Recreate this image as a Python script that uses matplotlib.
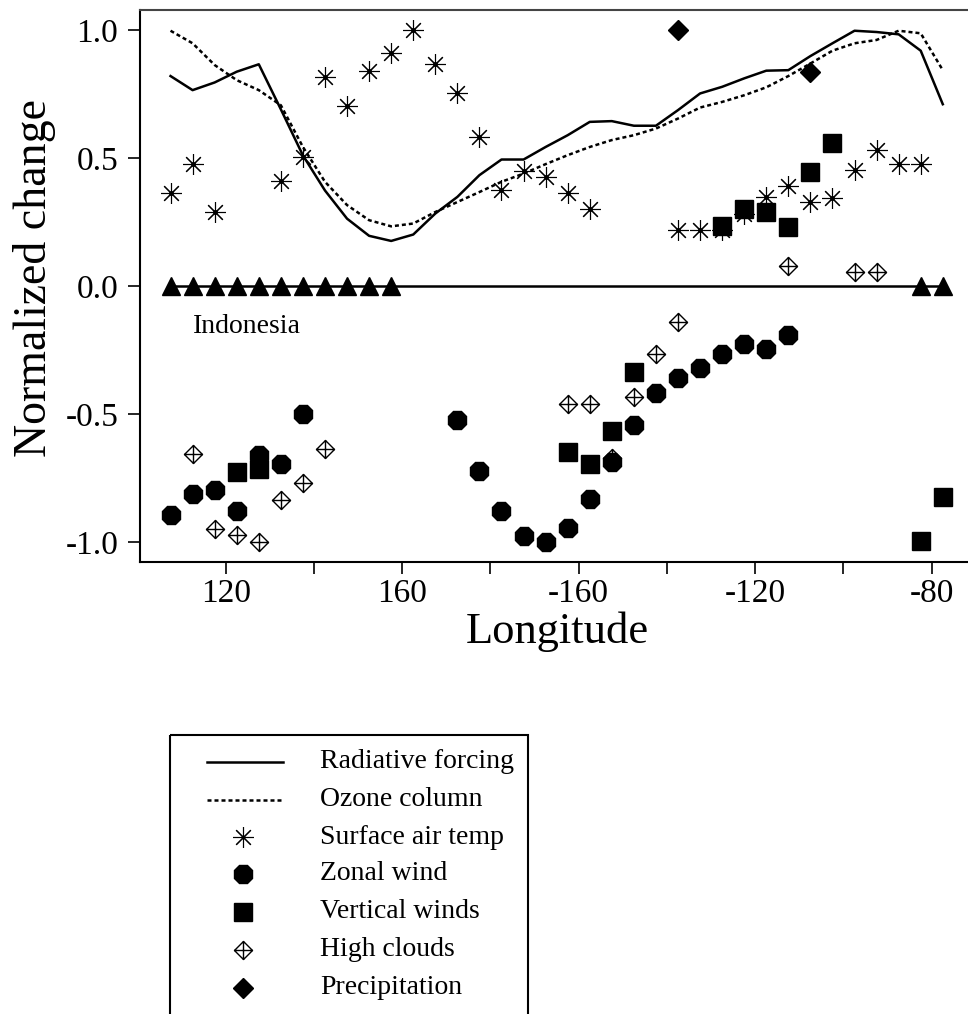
import matplotlib
matplotlib.use('Agg')
import matplotlib.pyplot as plt
from matplotlib.path import Path
from matplotlib.patches import Rectangle

plt.rcParams['font.family'] = ['Liberation Serif', 'DejaVu Serif']
plt.rcParams['axes.unicode_minus'] = False

# longitude in degrees east (0-360), 5 degree grid
lon = [107.5, 112.5, 117.5, 122.5, 127.5, 132.5, 137.5, 142.5, 147.5, 152.5,
       157.5, 162.5, 167.5, 172.5, 177.5, 182.5, 187.5, 192.5, 197.5, 202.5,
       207.5, 212.5, 217.5, 222.5, 227.5, 232.5, 237.5, 242.5, 247.5, 252.5,
       257.5, 262.5, 267.5, 272.5, 277.5, 282.5]
rad_forcing = [0.820, 0.765, 0.795, 0.837, 0.866, 0.690, 0.510, 0.373, 0.263, 0.196,
               0.176, 0.201, 0.283, 0.348, 0.433, 0.494, 0.494, 0.543, 0.589, 0.641,
               0.644, 0.626, 0.626, 0.687, 0.752, 0.778, 0.811, 0.841, 0.843, 0.898,
               0.948, 0.997, 0.992, 0.983, 0.919, 0.710]
ozone = [0.997, 0.948, 0.863, 0.804, 0.765, 0.706, 0.543, 0.407, 0.316, 0.257,
         0.233, 0.244, 0.289, 0.328, 0.367, 0.407, 0.439, 0.476, 0.511, 0.543,
         0.570, 0.589, 0.615, 0.654, 0.697, 0.719, 0.745, 0.776, 0.820, 0.869,
         0.919, 0.948, 0.961, 0.997, 0.987, 0.843]

sat_lon = [107.5, 112.5, 117.5, 132.5, 137.5, 142.5, 147.5, 152.5, 157.5, 162.5,
           167.5, 172.5, 177.5, 182.5, 187.5, 192.5, 197.5, 202.5, 222.5, 227.5,
           232.5, 237.5, 242.5, 247.5, 252.5, 257.5, 262.5, 267.5, 272.5, 277.5]
sat_val = [0.365, 0.476, 0.289, 0.410, 0.502, 0.815, 0.704, 0.841, 0.912, 1.000,
           0.869, 0.755, 0.583, 0.374, 0.450, 0.424, 0.365, 0.302, 0.218, 0.218,
           0.218, 0.283, 0.346, 0.391, 0.327, 0.344, 0.455, 0.533, 0.475, 0.475]

zw_lon = [107.5, 112.5, 117.5, 122.5, 127.5, 132.5, 137.5, 172.5, 177.5, 182.5,
          187.5, 192.5, 197.5, 202.5, 207.5, 212.5, 217.5, 222.5, 227.5, 232.5,
          237.5, 242.5, 247.5]
zw_val = [-0.893, -0.812, -0.796, -0.880, -0.659, -0.694, -0.499, -0.525, -0.723, -0.877,
          -0.975, -1.000, -0.945, -0.831, -0.688, -0.542, -0.419, -0.360, -0.319, -0.267,
          -0.225, -0.245, -0.190]

vw_lon = [122.5, 127.5, 197.5, 202.5, 207.5, 212.5, 232.5, 237.5, 242.5, 247.5,
          252.5, 257.5, 277.5, 282.5]
vw_val = [-0.727, -0.714, -0.649, -0.694, -0.567, -0.336, 0.235, 0.301, 0.288, 0.231,
          0.446, 0.559, -0.997, -0.825]

hc_lon = [112.5, 117.5, 122.5, 127.5, 132.5, 137.5, 142.5, 197.5, 202.5, 207.5,
          212.5, 217.5, 222.5, 247.5, 262.5, 267.5]
hc_val = [-0.658, -0.949, -0.971, -1.000, -0.834, -0.770, -0.638, -0.460, -0.460, -0.670,
          -0.434, -0.267, -0.141, 0.078, 0.055, 0.055]

pr_lon = [222.5, 252.5]
pr_val = [1.000, 0.837]

land_lon = [107.5, 112.5, 117.5, 122.5, 127.5, 132.5, 137.5, 142.5, 147.5, 152.5,
            157.5, 277.5, 282.5]
land_val = [0] * len(land_lon)

xticks = [120, 140, 160, 180, 200, 220, 240, 260, 280]
xticklabels = ['120', '', '160', '', '-160', '', '-120', '', '-80']
yticks = [-1.0, -0.5, 0.0, 0.5, 1.0]
yticklabels = ['-1.0', '-0.5', '0.0', '0.5', '1.0']

# diamond with a cross inside
hc_marker = Path([(0, 1), (1, 0), (0, -1), (-1, 0), (0, 1),
                  (-1, 0), (1, 0), (0, -1), (0, 1)],
                 [Path.MOVETO, Path.LINETO, Path.LINETO, Path.LINETO, Path.CLOSEPOLY,
                  Path.MOVETO, Path.LINETO, Path.MOVETO, Path.LINETO])

st_rf = dict(color='black', lw=1.8)
st_oz = dict(color='black', lw=1.8, ls=(0, (1.6, 1.2)))
st_sat = dict(ls='none', marker=(8, 2, 0), ms=15, mec='black', mew=0.8)
st_zw = dict(ls='none', marker='8', ms=13.5, mfc='black', mec='black')
st_vw = dict(ls='none', marker='s', ms=12.8, mfc='black', mec='black')
st_hc = dict(ls='none', marker=hc_marker, ms=13, mfc='none', mec='black', mew=1.0)
st_pr = dict(ls='none', marker='D', ms=10, mfc='black', mec='black')

W, H = 968, 1014
fig = plt.figure(figsize=(W / 100, H / 100), dpi=100)
ax = fig.add_axes([140 / W, 1 - 562 / H, 850 / W, 552 / H])

ax.plot(lon, rad_forcing, **st_rf)
ax.plot(lon, ozone, **st_oz)
ax.hlines(0, land_lon[0], land_lon[-1], color='black', lw=1.8)
ax.plot(sat_lon, sat_val, **st_sat)
ax.plot(sat_lon, sat_val, ls='none', marker='o', ms=2.5, color='black')
ax.plot(hc_lon, hc_val, **st_hc)
ax.plot(zw_lon, zw_val, **st_zw)
ax.plot(vw_lon, vw_val, **st_vw)
ax.plot(pr_lon, pr_val, **st_pr)
ax.plot(land_lon, land_val, ls='none', marker='^', ms=12.5, color='black')

ax.text(112.6, -0.157, 'Indonesia', fontsize=20, va='center', ha='left')

ax.set_xlim(100.58, 293.2)
ax.set_ylim(-1.078, 1.078)
ax.set_xticks(xticks)
ax.set_xticklabels(xticklabels)
ax.set_yticks(yticks)
ax.set_yticklabels(yticklabels)
ax.tick_params(direction='out', length=8.6, width=1.2, labelsize=24)
ax.tick_params(axis='y', pad=7)
ax.tick_params(axis='x', pad=3)
for s in ['left', 'bottom']:
    ax.spines[s].set_linewidth(1.5)
ax.spines['top'].set_color('#444444')
ax.spines['top'].set_linewidth(1.5)

fig.text(35 / W, 1 - 278 / H, 'Normalized change', rotation=90,
         ha='center', va='center', fontsize=33)
fig.text(557 / W, 1 - 632 / H, 'Longitude', ha='center', va='center', fontsize=32)

# legend box, drawn in figure pixels (bottom edge runs off the page)
lax = fig.add_axes([0, 0, 1, 1])
lax.set_xlim(0, W)
lax.set_ylim(H, 0)
lax.axis('off')
lax.add_patch(Rectangle((170, 735), 358, 400, fill=False, lw=1.5, ec='black'))
entries = [('Radiative forcing', st_rf, True),
           ('Ozone column', st_oz, True),
           ('Surface air temp', st_sat, False),
           ('Zonal wind', st_zw, False),
           ('Vertical winds', st_vw, False),
           ('High clouds', st_hc, False),
           ('Precipitation', st_pr, False)]
row_y = [762, 800, 837, 874, 912, 950, 988]
for (name, st, is_line), yy in zip(entries, row_y):
    if is_line:
        lax.plot([207, 283], [yy, yy], **st)
    else:
        lax.plot([243], [yy], **st)
    lax.text(320, yy, name, fontsize=20, va='center', ha='left')

fig.savefig('out.png', dpi=100)
